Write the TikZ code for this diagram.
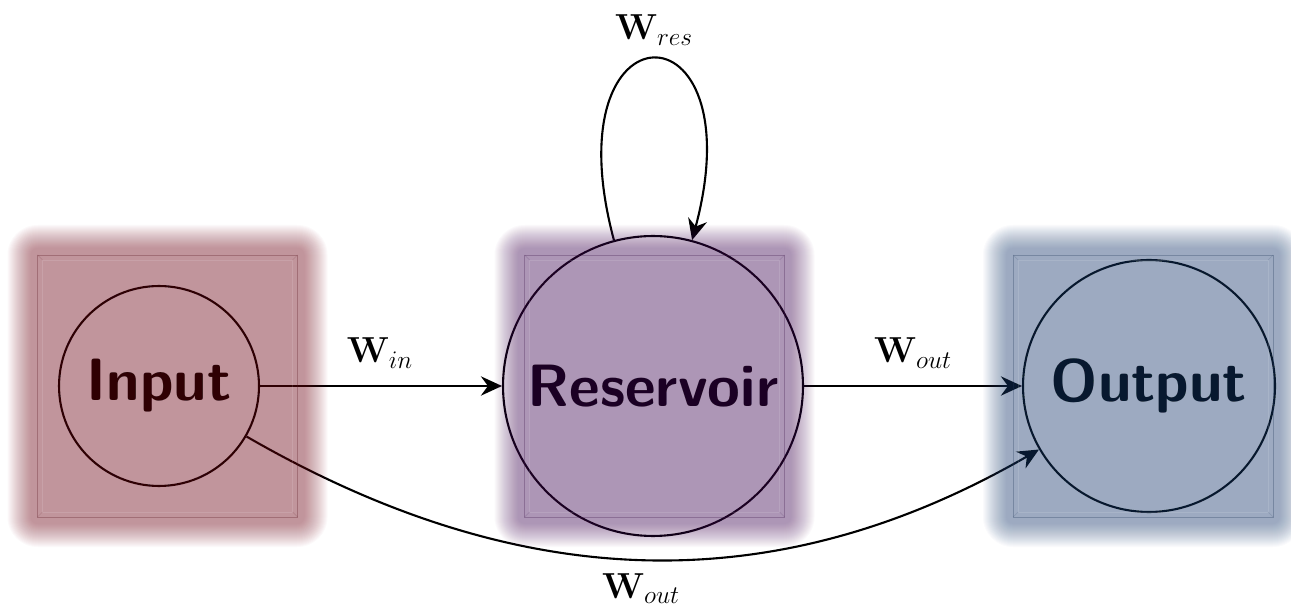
\RequirePackage{fix-cm}
\documentclass[tikz,border=0pt]{standalone}
\usetikzlibrary{arrows.meta}

\definecolor{inC}{RGB}{129,31,45}
\definecolor{resC}{RGB}{89,35,107}
\definecolor{outC}{RGB}{49,81,129}

\tikzset{
  unitnode/.style={circle, draw=black, line width=1.2pt, inner sep=0pt,
    font=\fontsize{34}{40}\selectfont\sffamily\bfseries},
  arr/.style={line width=1.2pt, -{Stealth[length=12pt,width=11pt,inset=4pt]}},
  wlabel/.style={font=\fontsize{20.6}{24}\selectfont, anchor=base, inner sep=0pt},
}

% translucent square with a soft glow, drawn over the nodes
% #1 = centre x, #2 = centre y, #3 = colour
\newcommand{\glowbox}[3]{%
  \foreach \k in {0,...,23}{%
    \pgfmathsetmacro{\ee}{7+1.0*\k}%
    \pgfmathsetmacro{\rr}{\ee*0.02}%
    \fill[#3, fill opacity=0.0231, rounded corners=\rr cm]
      ({#1-130-\ee},{#2-131-\ee}) rectangle ({#1+130+\ee},{#2+131+\ee});
  }%
  \draw[#3!70!black, draw opacity=0.3, line width=0.5pt]
    ({#1-130},{#2-131}) rectangle ({#1+130},{#2+131});
  \draw[white, draw opacity=0.12, line width=0.5pt]
    ({#1-125},{#2-126}) rectangle ({#1+125},{#2+126});
  \draw[#3!70!black, draw opacity=0.15, line width=0.4pt]
    ({#1-130},{#2-131}) -- ({#1-125},{#2-126})
    ({#1+130},{#2-131}) -- ({#1+125},{#2-126})
    ({#1-130},{#2+131}) -- ({#1-125},{#2+126})
    ({#1+130},{#2+131}) -- ({#1+125},{#2+126});
}

\begin{document}
\begin{tikzpicture}[x=0.02cm, y=0.02cm]
  \fill[white] (0,0) rectangle (1291,-607);
  \useasboundingbox (0,0) rectangle (1291,-607);

  % units
  \node[unitnode, minimum size=4cm]    (inp)  at (159,-386)  {Input};
  \node[unitnode, minimum size=6cm]    (res)  at (653,-386)  {Reservoir};
  \node[unitnode, minimum size=5.04cm] (outp) at (1149,-386) {Output};

  % weighted connections
  \draw[arr] (inp.east) -- (res.west);
  \draw[arr] (res.east) -- (outp.west);
  \draw[arr] (res.105) to[out=105, in=75, distance=5cm] (res.75);
  \draw[arr] (inp.-30) to[out=-30, in=210] (outp.210);

  % weight labels
  \node[wlabel] (lin)  at (380,-363) {$\mathbf{W}_{in}$};
  \node[wlabel] (lout) at (913,-363) {$\mathbf{W}_{out}$};
  \node[wlabel] (lres) at (654,-40)  {$\mathbf{W}_{res}$};
  \node[wlabel] (lbot) at (641,-598) {$\mathbf{W}_{out}$};

  % coloured overlays
  \glowbox{167.5}{-386}{inC}
  \glowbox{654.5}{-386}{resC}
  \glowbox{1143}{-386}{outC}
\end{tikzpicture}
\end{document}
